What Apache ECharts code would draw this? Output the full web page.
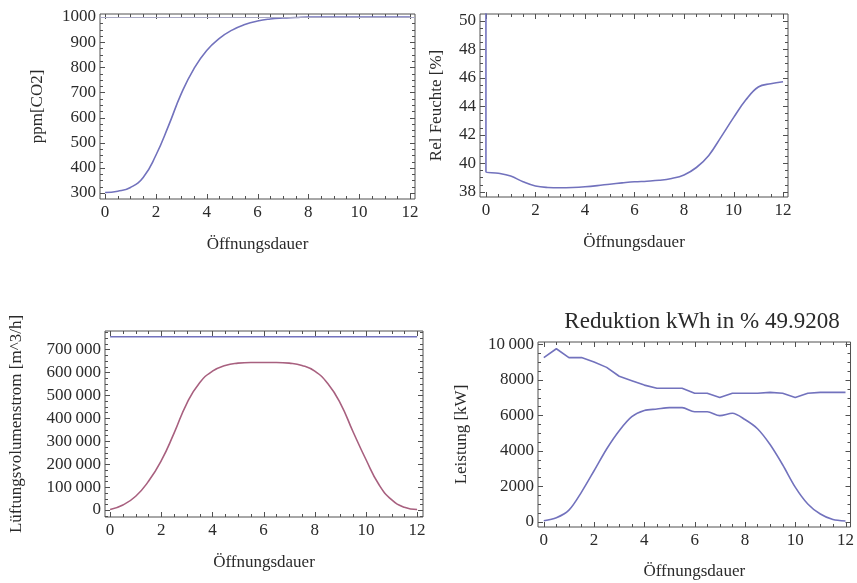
<!DOCTYPE html>
<html>
<head>
<meta charset="utf-8">
<script src="https://cdn.jsdelivr.net/npm/echarts@6/dist/echarts.min.js"></script>
<style>
html,body{margin:0;padding:0;background:#fff;}
#chart{width:857px;height:583px;}
</style>
</head>
<body>
<div id="chart"></div>
<script>
// ---- data ----
const timeX = [0,0.5,1,1.5,2,2.5,3,3.5,4,4.5,5,5.5,6,6.5,7,7.5,8,8.5,9,9.5,10,10.5,11,11.5,12];
const co2 = [302,307,322,362,450,568,695,795,867,915,948,970,984,992,996,998,1000,1000,1000,1000,1000,1000,1000,1000,1000];
const co2Limit = 1000;
const humidityStart = 51;
const humidity = [39.4,39.3,39.1,38.7,38.4,38.3,38.28,38.3,38.35,38.43,38.53,38.62,38.7,38.74,38.8,38.93,39.18,39.7,40.55,41.85,43.2,44.45,45.35,45.58,45.72];
const airflowMax = [755000,755000,755000,755000,755000,755000,755000,755000,755000,755000,755000,755000,755000,755000,755000,755000,755000,755000,755000,755000,755000,755000,755000,755000,755000];
const airflow = [2000,22000,60000,125000,215000,335000,465000,555000,605000,630000,640000,643000,643000,643000,640000,630000,605000,552000,465000,340000,220000,112000,45000,12000,2000];
const powerUpper = [9250,9750,9250,9250,9000,8700,8200,7950,7700,7520,7520,7520,7240,7240,7000,7240,7240,7240,7290,7240,7000,7240,7290,7290,7290];
const powerLower = [50,220,650,1670,2870,4100,5130,5920,6270,6350,6430,6430,6200,6200,5980,6110,5760,5240,4350,3210,1950,1000,430,120,40];

const xTicks = [0,2,4,6,8,10,12];
const co2Ticks = [300,400,500,600,700,800,900,1000];
const humTicks = [38,40,42,44,46,48,50];
const airTicks = [0,100000,200000,300000,400000,500000,600000,700000];
const powTicks = [0,2000,4000,6000,8000,10000];

const titleText = 'Reduktion kWh in % 49.9208';
const xName = 'Öffnungsdauer';
const yNames = ['ppm[CO2]', 'Rel Feuchte [%]', 'Lüftungsvolumenstrom [m^3/h]', 'Leistung [kW]'];

// ---- styling / layout ----
const FONT = '"Liberation Serif", "DejaVu Serif", serif';
const TXT = '#2a2a2a';
const FRAME = '#505050';
const BLUE = '#7272bd';
const RED = '#a8607f';

function fmtNum(v){
  const a = Math.abs(v);
  if (a < 10000) return String(v);
  return String(v).replace(/\B(?=(\d{3})+(?!\d))/g, '\u2009');
}
function minorsOf(majors, sub, min, max){
  const out = [];
  const step = (majors[1]-majors[0]) / sub;
  for (let v = majors[0] - step*sub; v <= majors[majors.length-1] + step*sub + 1e-9; v += step){
    if (v >= min - 1e-9 && v <= max + 1e-9) out.push(+v.toFixed(6));
  }
  return out;
}

const grids = [
  {left:100, top:14, width:315, height:185},
  {left:480, top:14, width:308, height:183},
  {left:105, top:331, width:318, height:186},
  {left:538, top:342, width:317, height:185}
].map(g => Object.assign(g, {show:true, borderColor:FRAME, borderWidth:1, backgroundColor:'transparent'}));
const xRanges = [[-0.2,12.2],[-0.24,12.2],[-0.2,12.23],[-0.23,12.2]];
const yRanges = [[276,1012],[37.63,50.47],[-30500,780000],[-300,10130]];
const yTickSets = [co2Ticks, humTicks, airTicks, powTicks];
const yNameGaps = [54, 35, 80, 68];
const xNameGaps = [37, 37, 37, 36];

const xAxes = [], yAxes = [];
for (let g=0; g<4; g++){
  xAxes.push({
    type:'value', gridIndex:g, min:xRanges[g][0], max:xRanges[g][1],
    splitLine:{show:false}, axisLine:{show:false}, axisTick:{show:false},
    axisLabel:{customValues:xTicks, fontFamily:FONT, fontSize:17, color:TXT, margin:5},
    name:xName, nameLocation:'middle', nameGap:xNameGaps[g],
    nameTextStyle:{fontFamily:FONT, fontSize:17, color:TXT}
  });
  yAxes.push({
    type:'value', gridIndex:g, min:yRanges[g][0], max:yRanges[g][1],
    splitLine:{show:false}, axisLine:{show:false}, axisTick:{show:false},
    axisLabel:{customValues:yTickSets[g], fontFamily:FONT, fontSize:17, color:TXT, margin:4,
               formatter:(v)=>fmtNum(v)},
    name:yNames[g], nameLocation:'middle', nameGap:yNameGaps[g],
    nameTextStyle:{fontFamily:FONT, fontSize:17, color:TXT}
  });
}

function zip(xs, ys){ return xs.map((x,i)=>[x, ys[i]]); }
function lineSeries(g, data, color, smooth){
  return {
    type:'line', xAxisIndex:g, yAxisIndex:g, data:data,
    showSymbol:false, symbol:'none', smooth:smooth, clip:true,
    lineStyle:{color:color, width:1.6}, animation:false, silent:true, z:3
  };
}

// frame ticks (inward, on all four sides) drawn through the axes' scales
function tickSeries(g){
  const data = [];
  xTicks.forEach(v => data.push([0, v, 5]));
  minorsOf(xTicks, 4, xRanges[g][0], xRanges[g][1]).forEach(v => { if (xTicks.indexOf(v) < 0) data.push([0, v, 3]); });
  yTickSets[g].forEach(v => data.push([1, v, 5]));
  minorsOf(yTickSets[g], 4, yRanges[g][0], yRanges[g][1]).forEach(v => { if (yTickSets[g].indexOf(v) < 0) data.push([1, v, 3]); });
  return {
    type:'custom', xAxisIndex:g, yAxisIndex:g, data:data, clip:false, silent:true,
    animation:false, z:2, encode:{x:1, y:1},
    renderItem:function(params, api){
      const cs = params.coordSys;
      const t = api.value(0), v = api.value(1), len = api.value(2);
      const st = {stroke:FRAME, lineWidth:1};
      if (t === 0){
        const px = Math.round(api.coord([v, yRanges[g][0]])[0]) + 0.5;
        const b = cs.y + cs.height, tp = cs.y;
        return {type:'group', children:[
          {type:'line', shape:{x1:px, y1:b, x2:px, y2:b-len}, style:st},
          {type:'line', shape:{x1:px, y1:tp, x2:px, y2:tp+len}, style:st}
        ]};
      } else {
        const py = Math.round(api.coord([xRanges[g][0], v])[1]) + 0.5;
        const l = cs.x, r = cs.x + cs.width;
        return {type:'group', children:[
          {type:'line', shape:{x1:l, y1:py, x2:l+len, y2:py}, style:st},
          {type:'line', shape:{x1:r, y1:py, x2:r-len, y2:py}, style:st}
        ]};
      }
    }
  };
}

const co2Series = lineSeries(0, zip(timeX, co2), BLUE, 0.5);
co2Series.markLine = {
  silent:true, symbol:'none', animation:false,
  label:{show:false},
  lineStyle:{color:'#a9a9c4', width:1.2, type:'solid'},
  data:[{yAxis:co2Limit}]
};

const humData = [[timeX[0], humidityStart]].concat(zip(timeX, humidity));

const series = [
  co2Series,
  lineSeries(1, humData, BLUE, 0.4),
  lineSeries(2, zip(timeX, airflowMax), BLUE, false),
  lineSeries(2, zip(timeX, airflow), RED, 0.5),
  lineSeries(3, zip(timeX, powerUpper), BLUE, false),
  lineSeries(3, zip(timeX, powerLower), BLUE, 0.3),
  tickSeries(0), tickSeries(1), tickSeries(2), tickSeries(3)
];

const chart = echarts.init(document.getElementById('chart'), null, {renderer:'canvas'});
chart.setOption({
  animation:false,
  backgroundColor:'#ffffff',
  title:{
    text:titleText, left:697, top:305, textAlign:'center',
    textStyle:{fontFamily:FONT, fontSize:23, fontWeight:'normal', color:TXT}
  },
  grid:grids,
  xAxis:xAxes,
  yAxis:yAxes,
  series:series
});
</script>
</body>
</html>
